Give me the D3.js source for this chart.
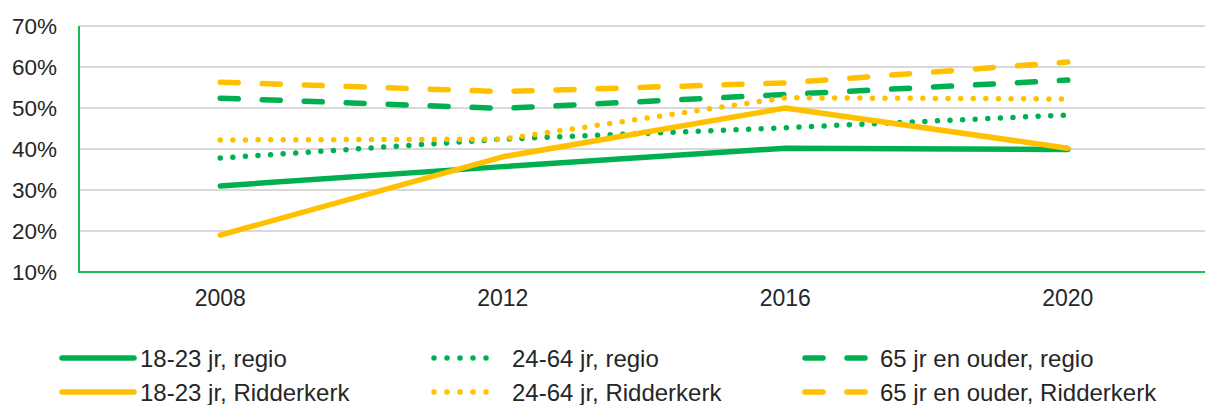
<!DOCTYPE html>
<html>
<head>
<meta charset="utf-8">
<script src="https://cdn.jsdelivr.net/npm/d3@7"></script>
<style>
  html, body { margin: 0; padding: 0; background: #fff; }
  svg { display: block; font-family: "Liberation Sans", Arial, sans-serif; }
</style>
</head>
<body>
<svg id="chart" width="1205" height="405"></svg>
<script>
const years = ["2008", "2012", "2016", "2020"];
const yTicks = [0.1, 0.2, 0.3, 0.4, 0.5, 0.6, 0.7];

const youngRegio = [0.310, 0.357, 0.402, 0.399];
const adultRegio = [0.378, 0.424, 0.452, 0.483];
const seniorRegio = [0.524, 0.499, 0.533, 0.568];
const youngRidderkerk = [0.190, 0.381, 0.500, 0.402];
const adultRidderkerk = [0.422, 0.424, 0.525, 0.522];
const seniorRidderkerk = [0.563, 0.540, 0.561, 0.612];

const seriesNames = [
  "18-23 jr, regio", "24-64 jr, regio", "65 jr en ouder, regio",
  "18-23 jr, Ridderkerk", "24-64 jr, Ridderkerk", "65 jr en ouder, Ridderkerk"
];

const GREEN = "#00B050", YELLOW = "#FFC000";
const series = [
  { name: seriesNames[0], values: youngRegio, color: GREEN, style: "solid" },
  { name: seriesNames[1], values: adultRegio, color: GREEN, style: "dot" },
  { name: seriesNames[2], values: seniorRegio, color: GREEN, style: "dash" },
  { name: seriesNames[3], values: youngRidderkerk, color: YELLOW, style: "solid" },
  { name: seriesNames[4], values: adultRidderkerk, color: YELLOW, style: "dot" },
  { name: seriesNames[5], values: seniorRidderkerk, color: YELLOW, style: "dash" }
];

const dashes = { solid: null, dot: "0 12.6", dash: "18 24" };

const svg = d3.select("#chart");
const pLeft = 79, pRight = 1209, pTop = 26, pBottom = 272;

const x = d3.scaleBand().domain(years).range([pLeft, pRight]);
const y = d3.scaleLinear().domain([0.1, 0.7]).range([pBottom, pTop]);

// gridlines
svg.append("g").selectAll("line").data(yTicks.filter(t => t > 0.1)).join("line")
  .attr("x1", pLeft).attr("x2", pRight)
  .attr("y1", d => y(d)).attr("y2", d => y(d))
  .attr("stroke", "#D9D9D9").attr("stroke-width", 2);

// y axis
const yAxis = svg.append("g").attr("transform", `translate(${pLeft},0)`)
  .call(d3.axisLeft(y).tickValues(yTicks).tickFormat(d3.format(".0%")).tickSize(0).tickPadding(22));
yAxis.select(".domain").remove();
yAxis.selectAll("text").attr("font-size", 22.5).attr("fill", "#262626")
  .attr("font-family", "Liberation Sans, Arial, sans-serif");

// x axis
const xAxis = svg.append("g").attr("transform", `translate(0,${pBottom})`)
  .call(d3.axisBottom(x).tickSize(0).tickPadding(18));
xAxis.select(".domain").remove();
xAxis.selectAll("text").attr("font-size", 23).attr("fill", "#262626")
  .attr("font-family", "Liberation Sans, Arial, sans-serif");

// axis lines
svg.append("line").attr("x1", pLeft).attr("x2", pLeft).attr("y1", pTop).attr("y2", pBottom + 1)
  .attr("stroke", "#1DB954").attr("stroke-width", 2);
svg.append("line").attr("x1", pLeft - 1).attr("x2", pRight).attr("y1", pBottom).attr("y2", pBottom)
  .attr("stroke", "#1DB954").attr("stroke-width", 2);

// lines
const line = d3.line().x((d, i) => x(years[i]) + x.bandwidth() / 2).y(d => y(d));
svg.append("g").selectAll("path").data(series).join("path")
  .attr("d", d => line(d.values))
  .attr("fill", "none")
  .attr("stroke", d => d.color)
  .attr("stroke-width", d => d.style === "dot" ? 5.5 : 5.5)
  .attr("stroke-linecap", "round")
  .attr("stroke-linejoin", "round")
  .attr("stroke-dasharray", d => dashes[d.style]);

// legend
const legendCols = [62, 434, 805];
const legendRows = [358, 392];
const legendOrder = [[0, 3], [1, 4], [2, 5]];
const lg = svg.append("g");
legendOrder.forEach((pair, c) => {
  pair.forEach((si, r) => {
    const s = series[si];
    const cx = legendCols[c], cy = legendRows[r];
    const sw = s.style === "solid" ? 72 : (s.style === "dot" ? 64 : 62);
    lg.append("line")
      .attr("x1", cx).attr("x2", cx + sw).attr("y1", cy).attr("y2", cy)
      .attr("stroke", s.color)
      .attr("stroke-width", 5.5)
      .attr("stroke-linecap", "round")
      .attr("stroke-dasharray", s.style === "dot" ? "0 13" : (s.style === "dash" ? "18 24" : null));
    lg.append("text")
      .attr("x", c === 0 ? 140 : (c === 1 ? 512 : 880))
      .attr("y", cy + 8.5)
      .attr("font-size", 24)
      .attr("fill", "#262626")
      .text(s.name);
  });
});
</script>
</body>
</html>
